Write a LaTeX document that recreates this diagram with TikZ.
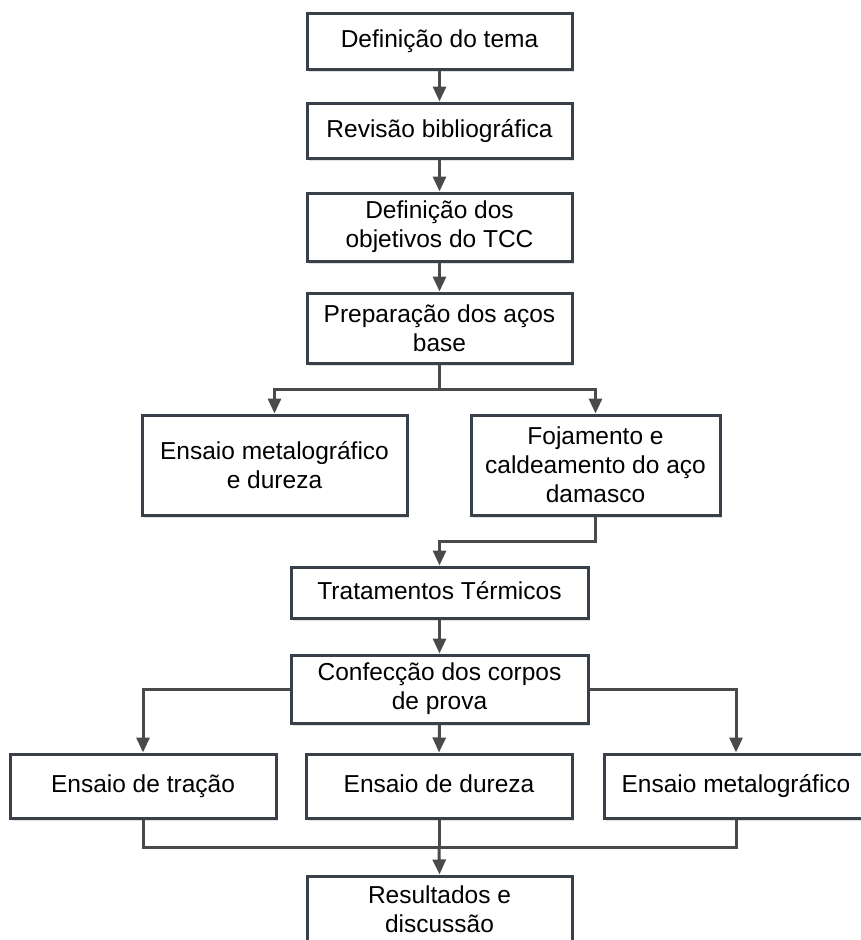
\documentclass[tikz,border=0pt]{standalone}
\usepackage{fontspec}
\setmainfont{Liberation Sans}
\usetikzlibrary{arrows.meta,shadows}
\definecolor{bordc}{HTML}{3A4049}
\definecolor{arrc}{HTML}{4A4A4A}
\begin{document}
\begin{tikzpicture}[x=1pt,y=-1pt,
  box/.style={draw=bordc, line width=3pt, fill=white, inner sep=0pt, align=center,
    font=\fontsize{24.5}{29}\selectfont,
    drop shadow={shadow xshift=2pt, shadow yshift=-3pt, opacity=0.12, fill=black}},
  oneline/.style={text height=18pt, text depth=5pt},
  conn/.style={draw=arrc, line width=3pt},
  arr/.style={conn, -{Triangle[length=15pt,width=13pt]}}]
\useasboundingbox (0,0) rectangle (861,940);
% boxes
\node[box, oneline, minimum width=265pt, minimum height=56pt] (b1) at (439.5,41) {Definição do tema};
\node[box, oneline, minimum width=265pt, minimum height=55pt] (b2) at (439.5,130.5) {Revisão bibliográfica};
\node[box, minimum width=265pt, minimum height=68pt] (b3) at (439.5,227) {Definição dos\\objetivos do TCC};
\node[box, minimum width=265pt, minimum height=70pt] (b4) at (439.5,328) {Preparação dos aços\\base};
\node[box, minimum width=265pt, minimum height=100pt] (b5) at (274.5,465) {Ensaio metalográfico\\e dureza};
\node[box, minimum width=249pt, minimum height=100pt] (b6) at (595.5,465) {Fojamento e\\caldeamento do aço\\damasco};
\node[box, oneline, minimum width=297pt, minimum height=51pt] (b7) at (439.5,592.5) {Tratamentos Térmicos};
\node[box, minimum width=297pt, minimum height=68pt] (b8) at (439.5,689) {Confecção dos corpos\\de prova};
\node[box, oneline, minimum width=266pt, minimum height=64pt] (b9) at (143,786) {Ensaio de tração};
\node[box, oneline, minimum width=266pt, minimum height=64pt] (b10) at (439,786) {Ensaio de dureza};
\node[box, oneline, minimum width=264pt, minimum height=64pt] (b11) at (736,786) {Ensaio metalográfico};
\node[box, minimum width=265pt, minimum height=66pt] (b12) at (439.5,909) {Resultados e\\discussão};
% junction coordinates
\coordinate (j4) at (439.5,389);
\coordinate (j6) at (595.5,541);
\coordinate (j7) at (439.5,541);
\coordinate (jl) at (143,689);
\coordinate (jr) at (736,689);
\coordinate (jb) at (439,847);
% connectors
\draw[arr] (b1.south) -- (b2.north);
\draw[arr] (b2.south) -- (b3.north);
\draw[arr] (b3.south) -- (b4.north);
\draw[conn] (b4.south) -- (j4);
\draw[arr] (j4) -| (b5.north);
\draw[arr] (j4) -| (b6.north);
\draw[arr] (b6.south) -- (j6) -- (j7) -- (b7.north);
\draw[arr] (b7.south) -- (b8.north);
\draw[arr] (b8.west) -- (jl) -- (b9.north);
\draw[arr] (b8.east) -- (jr) -- (b11.north);
\draw[arr] (b8.south) -- (b10.north);
\draw[conn] (b9.south) |- (jb);
\draw[conn] (b11.south) |- (jb);
\draw[conn] (b10.south) -- (jb);
\draw[arr] (jb) -- (b12.north);
\end{tikzpicture}
\end{document}
